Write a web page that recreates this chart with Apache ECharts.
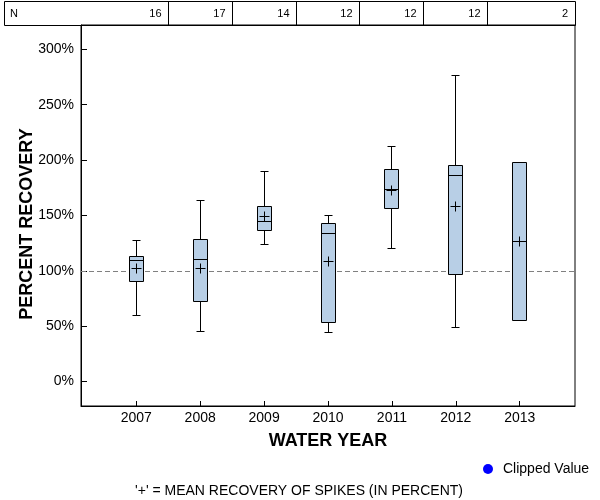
<!DOCTYPE html>
<html><head><meta charset="utf-8">
<script src="https://cdn.jsdelivr.net/npm/echarts@6/dist/echarts.min.js"></script>
<style>html,body{margin:0;padding:0;background:#fff}#c{width:600px;height:500px}</style>
</head><body><div id="c"></div>
<script>
// ---- data ----
const years = [2007, 2008, 2009, 2010, 2011, 2012, 2013];
const counts = [16, 17, 14, 12, 12, 12, 2];
const whiskerLow = [59.9, 45.5, 124.0, 44.6, 120.4, 49.1, 55.4];
const q1 = [90.6, 72.6, 136.6, 53.6, 156.5, 96.9, 55.4];
const median = [109.6, 110.5, 144.8, 133.3, 173.6, 186.3, 126.7];
const q3 = [113.2, 128.5, 158.3, 143.0, 191.7, 194.9, 197.7];
const whiskerHigh = [127.3, 163.7, 189.5, 150.2, 212.1, 276.5, 197.7];
const means = [101.7, 102.0, 148.9, 108.7, 172.6, 158.3, 126.7];
const yTicks = [0, 50, 100, 150, 200, 250, 300];
const referenceLine = 100;

const FONT = 'Arial, "Liberation Sans", sans-serif';
const BOX_FILL = '#b8cfe6';

function px(v) { return Math.round(v - 0.5) + 0.5; }

function renderBox(params, api) {
  const x = api.value(0);
  const cx = px(api.coord([x, 0])[0]);
  const y = v => px(api.coord([x, v])[1]);
  const yLo = y(api.value(1)), yQ1 = y(api.value(2)), yMed = y(api.value(3));
  const yQ3 = y(api.value(4)), yHi = y(api.value(5)), yMean = y(api.value(6));
  const hw = 7, cap = 4, pl = 5;
  const ls = { stroke: '#000', lineWidth: 1 };
  const kids = [];
  if (yHi < yQ3) {
    kids.push({ type: 'line', shape: { x1: cx, y1: yQ3, x2: cx, y2: yHi }, style: ls });
    kids.push({ type: 'line', shape: { x1: cx - cap, y1: yHi, x2: cx + cap, y2: yHi }, style: ls });
  }
  if (yLo > yQ1) {
    kids.push({ type: 'line', shape: { x1: cx, y1: yQ1, x2: cx, y2: yLo }, style: ls });
    kids.push({ type: 'line', shape: { x1: cx - cap, y1: yLo, x2: cx + cap, y2: yLo }, style: ls });
  }
  kids.push({ type: 'rect', shape: { x: cx - hw, y: yQ3, width: hw * 2, height: yQ1 - yQ3 },
    style: { fill: BOX_FILL, stroke: '#000', lineWidth: 1 } });
  kids.push({ type: 'line', shape: { x1: cx - hw, y1: yMed, x2: cx + hw, y2: yMed }, style: ls });
  kids.push({ type: 'line', shape: { x1: cx - pl, y1: yMean, x2: cx + pl, y2: yMean }, style: ls });
  kids.push({ type: 'line', shape: { x1: cx, y1: yMean - pl, x2: cx, y2: yMean + pl }, style: ls });
  return { type: 'group', children: kids };
}

function renderN(params, api) {
  const i = params.dataIndex;
  const x = api.value(0);
  const cs = params.coordSys;
  const top = cs.y;
  const last = i === years.length - 1;
  const right = last ? cs.x + cs.width : px(api.coord([x + 0.5, 0])[0]);
  const kids = [];
  if (!last) {
    kids.push({ type: 'line', shape: { x1: right, y1: top - 24, x2: right, y2: top },
      style: { stroke: '#000', lineWidth: 1 } });
  }
  kids.push({ type: 'text', style: { text: String(api.value(1)), x: right - 7, y: top - 11,
    align: 'right', verticalAlign: 'middle', font: '11px ' + FONT, fill: '#000' } });
  return { type: 'group', children: kids };
}

const chart = echarts.init(document.getElementById('c'), null, { renderer: 'canvas' });
chart.setOption({
  animation: false,
  backgroundColor: '#fff',
  grid: { left: 81, right: 25, top: 25, bottom: 94, show: true, borderColor: '#000', borderWidth: 1 },
  xAxis: {
    type: 'value', min: 2006.135, max: 2013.865,
    name: 'WATER YEAR', nameLocation: 'middle', nameGap: 26,
    nameTextStyle: { fontFamily: FONT, fontSize: 18, fontWeight: 'bold', color: '#000' },
    axisLine: { show: true, onZero: false, lineStyle: { color: '#000' } },
    axisTick: { show: true, inside: true, length: 5, customValues: years, lineStyle: { color: '#000' } },
    axisLabel: { customValues: years, formatter: v => String(v), fontFamily: FONT, fontSize: 14, color: '#000', margin: 5 },
    splitLine: { show: false }
  },
  yAxis: {
    type: 'value', min: -22, max: 322,
    axisLine: { show: true, onZero: false, lineStyle: { color: '#000' } },
    axisTick: { show: true, inside: true, length: 6, customValues: yTicks, lineStyle: { color: '#000' } },
    axisLabel: { customValues: yTicks, formatter: '{value}%', fontFamily: FONT, fontSize: 14, color: '#000', margin: 7 },
    splitLine: { show: false }
  },
  legend: {
    data: ['Clipped Value'], left: 478, top: 457, icon: 'circle', itemWidth: 20, itemHeight: 10,
    textStyle: { fontFamily: FONT, fontSize: 14, color: '#000' }, selectedMode: false
  },
  graphic: [
    { type: 'rect', shape: { x: 4.5, y: 1.5, width: 571, height: 24 }, style: { fill: 'none', stroke: '#000', lineWidth: 1 } },
    { type: 'text', style: { text: 'N', x: 10, y: 14, verticalAlign: 'middle', font: '11px ' + FONT, fill: '#000' } },
    { type: 'text', rotation: Math.PI / 2, x: 27, y: 224,
      style: { text: 'PERCENT RECOVERY', align: 'center', verticalAlign: 'middle', font: 'bold 18px ' + FONT, fill: '#000' } },
    { type: 'text', x: 299, y: 491,
      style: { text: "'+' = MEAN RECOVERY OF SPIKES (IN PERCENT)", align: 'center', verticalAlign: 'middle', font: '14px ' + FONT, fill: '#000' } }
  ],
  series: [
    {
      name: 'ref', type: 'line', data: [], silent: true,
      markLine: { z: 1, silent: true, symbol: 'none', label: { show: false },
        lineStyle: { color: '#808080', type: [5, 3], width: 1 }, data: [{ yAxis: referenceLine }] }
    },
    {
      name: 'Recovery', type: 'custom', z: 3, renderItem: renderBox, clip: false,
      encode: { x: 0, y: [1, 2, 3, 4, 5, 6] },
      data: years.map((y, i) => [y, whiskerLow[i], q1[i], median[i], q3[i], whiskerHigh[i], means[i]])
    },
    {
      name: 'N', type: 'custom', z: 3, renderItem: renderN, clip: false, silent: true,
      encode: { x: 0, y: 1 },
      data: years.map((y, i) => [y, counts[i]])
    },
    { name: 'Clipped Value', type: 'scatter', data: [], itemStyle: { color: '#0000ff', opacity: 1 } }
  ]
});
</script>
</body></html>
